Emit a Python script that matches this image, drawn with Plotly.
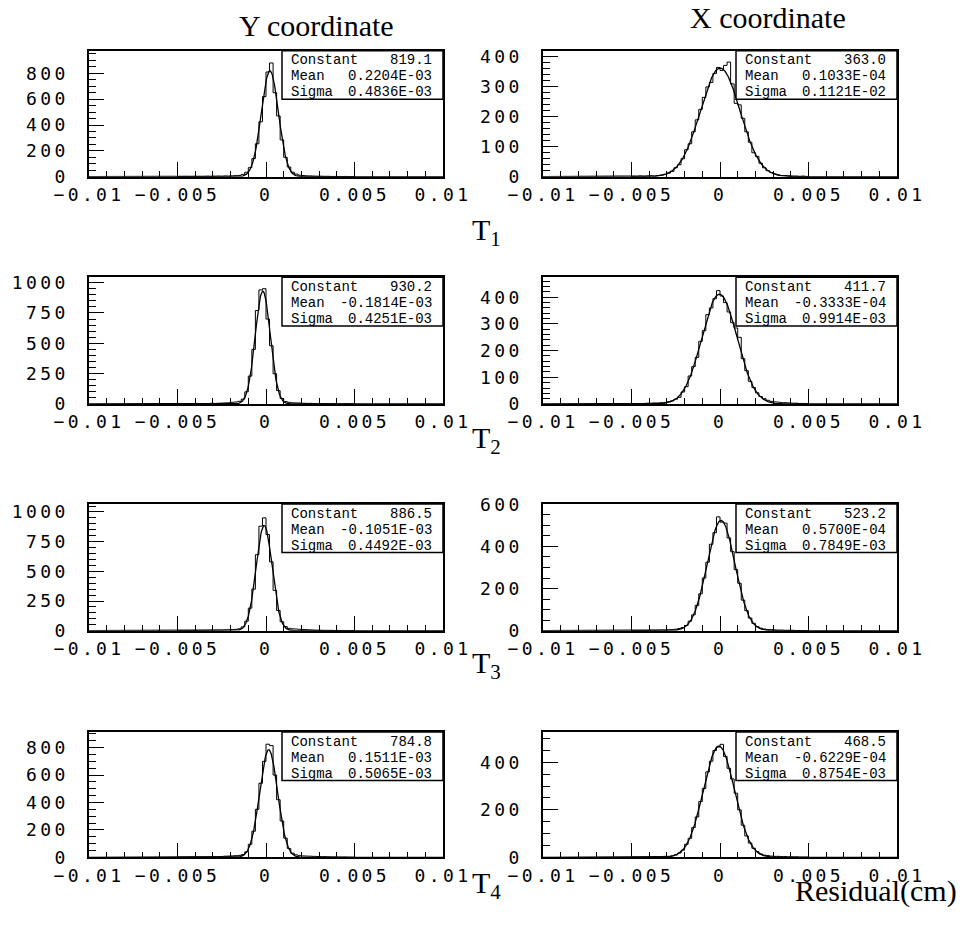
import numpy as np
import plotly.graph_objects as go

W, H = 968, 927

# ---------------- data ----------------
BIN_START = -0.005      # first listed bin edge
BIN_WIDTH = 0.0002      # histogram bin width (cm)

# bin counts from -0.005 to +0.005 (50 bins each)
y_t1 = [1, 1, 2, 1, 2, 2, 1, 2, 3, 2,
        3, 4, 3, 5, 4, 6, 8, 10, 18, 35,
        70, 140, 255, 425, 620, 810, 880, 650, 470, 285,
        150, 75, 35, 20, 12, 9, 7, 6, 5, 4,
        4, 3, 3, 2, 2, 2, 1, 2, 1, 1]
x_t1 = [1, 0, 2, 1, 2, 3, 2, 4, 5, 8,
        12, 18, 30, 40, 60, 90, 110, 150, 190, 225,
        265, 300, 315, 345, 365, 355, 372, 383, 310, 245,
        240, 195, 150, 115, 80, 68, 45, 30, 20, 14,
        9, 6, 4, 4, 3, 2, 2, 1, 2, 1]
y_t2 = [1, 1, 2, 1, 2, 2, 3, 3, 4, 5,
        5, 6, 7, 9, 10, 14, 16, 22, 40, 100,
        230, 450, 770, 940, 950, 700, 480, 250, 110, 45,
        20, 14, 10, 9, 8, 6, 5, 5, 4, 3,
        3, 3, 2, 2, 2, 1, 1, 2, 1, 1]
x_t2 = [1, 1, 2, 2, 3, 3, 4, 4, 5, 6,
        8, 12, 18, 25, 45, 65, 105, 140, 175, 235,
        275, 335, 360, 395, 425, 405, 380, 345, 305, 285,
        250, 170, 125, 85, 62, 42, 28, 20, 14, 10,
        8, 7, 5, 5, 4, 3, 3, 2, 2, 1]
y_t3 = [0, 1, 1, 1, 2, 2, 2, 3, 3, 4,
        4, 5, 5, 6, 7, 9, 11, 16, 32, 80,
        190, 350, 640, 880, 950, 810, 580, 340, 170, 75,
        35, 20, 16, 14, 12, 10, 9, 7, 6, 5,
        4, 3, 3, 3, 2, 2, 2, 1, 1, 1]
x_t3 = [0, 0, 1, 1, 1, 2, 2, 2, 3, 3,
        4, 5, 7, 10, 15, 25, 45, 75, 120, 175,
        250, 325, 410, 465, 540, 515, 510, 440, 375, 290,
        225, 145, 95, 60, 35, 20, 12, 8, 6, 5,
        4, 3, 3, 2, 2, 2, 1, 1, 1, 0]
y_t4 = [1, 1, 1, 2, 2, 2, 2, 3, 3, 4,
        4, 5, 6, 8, 9, 10, 12, 14, 20, 40,
        95, 190, 350, 540, 700, 825, 815, 600, 420, 265,
        140, 65, 30, 18, 12, 10, 9, 8, 7, 6,
        5, 5, 4, 3, 3, 2, 2, 2, 1, 1]
x_t4 = [1, 1, 1, 2, 2, 2, 3, 3, 3, 4,
        4, 6, 10, 18, 30, 55, 80, 125, 170, 235,
        290, 360, 405, 450, 465, 476, 425, 375, 330, 270,
        200, 135, 90, 60, 38, 24, 14, 9, 7, 5,
        4, 4, 3, 3, 2, 2, 2, 1, 1, 1]

# Gaussian fit parameters printed in the stat boxes
fit_constant = [819.1, 363.0, 930.2, 411.7, 886.5, 523.2, 784.8, 468.5]
fit_mean = [0.2204e-3, 0.1033e-4, -0.1814e-3, -0.3333e-4,
            -0.1051e-3, 0.5700e-4, 0.1511e-3, -0.6229e-4]
fit_sigma = [0.4836e-3, 0.1121e-2, 0.4251e-3, 0.9914e-3,
             0.4492e-3, 0.7849e-3, 0.5065e-3, 0.8754e-3]
const_text = ["819.1", "363.0", "930.2", "411.7", "886.5", "523.2", "784.8", "468.5"]
mean_text = ["0.2204E-03", "0.1033E-04", "-0.1814E-03", "-0.3333E-04",
             "-0.1051E-03", "0.5700E-04", "0.1511E-03", "-0.6229E-04"]
sigma_text = ["0.4836E-03", "0.1121E-02", "0.4251E-03", "0.9914E-03",
              "0.4492E-03", "0.7849E-03", "0.5065E-03", "0.8754E-03"]

# axis tick labels
x_tick_vals = [-0.01, -0.005, 0, 0.005, 0.01]
x_tick_text = ["\u22120.01", "\u22120.005", "0", "0.005", "0.01"]
y_tick_vals = [[0, 200, 400, 600, 800], [0, 100, 200, 300, 400],
               [0, 250, 500, 750, 1000], [0, 100, 200, 300, 400],
               [0, 250, 500, 750, 1000], [0, 200, 400, 600],
               [0, 200, 400, 600, 800], [0, 200, 400]]
y_max = [975, 421, 1044, 475, 1067, 601, 914, 528]
y_minor = [50, 20, 50, 20, 50, 50, 50, 50]

column_titles = ["Y coordinate", "X coordinate"]
row_labels = ["T<sub>1</sub>", "T<sub>2</sub>", "T<sub>3</sub>", "T<sub>4</sub>"]
axis_title = "Residual(cm)"

counts = [y_t1, x_t1, y_t2, x_t2, y_t3, x_t3, y_t4, x_t4]

# ---------------- layout geometry (pixels) ----------------
col_x = [(89, 443), (543, 897)]
row_y = [(50.7, 176.7), (277.3, 404.0), (504.0, 630.7), (732.0, 857.3)]

TICK_FONT = "DejaVu Sans Mono"
STAT_FONT = "Liberation Mono"
TITLE_FONT = "Liberation Serif"


def ls(t):
    return '<span style="letter-spacing:3.4px">' + t + '</span>'


def px(x):
    return x / W


def py(y):
    return 1 - y / H


fig = go.Figure()
layout = dict(
    width=W, height=H, margin=dict(l=0, r=0, t=0, b=0, autoexpand=False),
    paper_bgcolor="white", plot_bgcolor="white", showlegend=False,
)
shapes = []
annotations = []

xfit = np.linspace(-0.01, 0.01, 1001)

for i in range(8):
    r, c = divmod(i, 2)
    n = i + 1
    xa = "x" if n == 1 else f"x{n}"
    ya = "y" if n == 1 else f"y{n}"
    cnt = counts[i]
    edges = BIN_START + BIN_WIDTH * np.arange(len(cnt) + 1)
    fig.add_trace(go.Scatter(
        x=edges, y=list(cnt) + [cnt[-1]], mode="lines", line_shape="hv",
        line=dict(color="black", width=1), xaxis=xa, yaxis=ya, hoverinfo="skip"))
    yfit = fit_constant[i] * np.exp(-0.5 * ((xfit - fit_mean[i]) / fit_sigma[i]) ** 2)
    fig.add_trace(go.Scatter(
        x=xfit, y=yfit, mode="lines", line=dict(color="black", width=1.3),
        xaxis=xa, yaxis=ya, hoverinfo="skip"))

    x0, x1 = col_x[c]
    y0, y1 = row_y[r]
    layout["xaxis" if n == 1 else f"xaxis{n}"] = dict(
        domain=[px(x0), px(x1)], anchor=ya, range=[-0.01, 0.01], automargin=False,
        showgrid=False, zeroline=False, showline=True, mirror=True,
        linecolor="black", linewidth=1.5,
        tickmode="array", tickvals=x_tick_vals, ticktext=[ls(t) for t in x_tick_text],
        ticks="inside", ticklen=15, tickwidth=1, tickcolor="black",
        minor=dict(ticks="inside", dtick=0.001, tick0=0, ticklen=6,
                   tickwidth=1, tickcolor="black"),
        tickfont=dict(family=TICK_FONT, size=18, color="black"),
        ticklabelstandoff=1, fixedrange=True,
    )
    layout["yaxis" if n == 1 else f"yaxis{n}"] = dict(
        domain=[py(y1), py(y0)], anchor=xa, range=[0, y_max[i]], automargin=False,
        showgrid=False, zeroline=False, showline=True, mirror=True,
        linecolor="black", linewidth=1.5,
        tickmode="array", tickvals=y_tick_vals[i],
        ticktext=[ls(str(v)) for v in y_tick_vals[i]],
        ticks="inside", ticklen=15, tickwidth=1, tickcolor="black",
        minor=dict(ticks="inside", dtick=y_minor[i], tick0=0, ticklen=7.5,
                   tickwidth=1, tickcolor="black"),
        tickfont=dict(family=TICK_FONT, size=18, color="black"),
        ticklabelstandoff=15, fixedrange=True,
    )

    # statistics box
    bx0, bx1 = x1 - 161, x1
    by0, by1 = y0, y0 + 48.6
    shapes.append(dict(type="rect", xref="paper", yref="paper",
                       x0=px(bx0), x1=px(bx1), y0=py(by1), y1=py(by0),
                       fillcolor="white", line=dict(color="black", width=1.5),
                       layer="above"))
    labels = ["Constant", "Mean", "Sigma"]
    values = [const_text[i], mean_text[i], sigma_text[i]]
    for k in range(3):
        yy = by0 + 9.5 + 16 * k
        annotations.append(dict(xref="paper", yref="paper", x=px(bx0 + 7), y=py(yy),
                                xanchor="left", yanchor="middle", showarrow=False,
                                text=labels[k],
                                font=dict(family=STAT_FONT, size=14, color="black")))
        annotations.append(dict(xref="paper", yref="paper", x=px(bx1 - 9), y=py(yy),
                                xanchor="right", yanchor="middle", showarrow=False,
                                text=values[k],
                                font=dict(family=STAT_FONT, size=14, color="black")))

# column titles
annotations.append(dict(xref="paper", yref="paper", x=px(316), y=py(25),
                        xanchor="center", yanchor="middle", showarrow=False,
                        text=column_titles[0],
                        font=dict(family=TITLE_FONT, size=30, color="black")))
annotations.append(dict(xref="paper", yref="paper", x=px(768), y=py(18),
                        xanchor="center", yanchor="middle", showarrow=False,
                        text=column_titles[1],
                        font=dict(family=TITLE_FONT, size=30, color="black")))
# row labels T1..T4
row_label_y = [232, 440, 665, 885]
for r in range(4):
    annotations.append(dict(xref="paper", yref="paper", x=px(470), y=py(row_label_y[r]),
                            xanchor="left", yanchor="middle", showarrow=False,
                            text=row_labels[r],
                            font=dict(family=TITLE_FONT, size=30, color="black")))
# axis title
annotations.append(dict(xref="paper", yref="paper", x=px(876), y=py(891),
                        xanchor="center", yanchor="middle", showarrow=False,
                        text=axis_title,
                        font=dict(family=TITLE_FONT, size=30, color="black")))

layout["shapes"] = shapes
layout["annotations"] = annotations
fig.update_layout(**layout)

fig.write_html("out.html")
